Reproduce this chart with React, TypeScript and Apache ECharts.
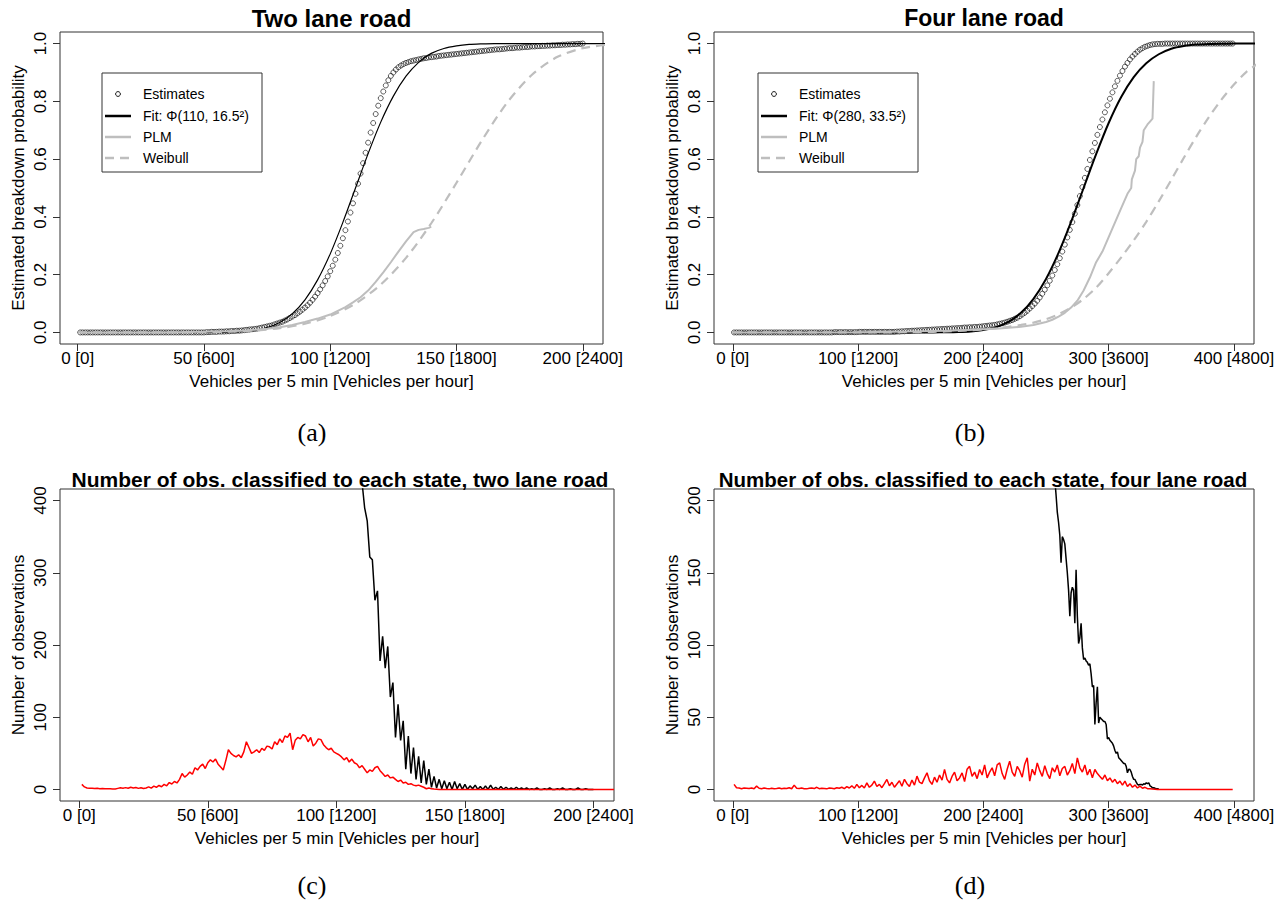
import React, { useEffect, useRef } from "react";
import * as echarts from "echarts";

// ---------- helpers for x grids (categories) ----------
function seq(a: number, b: number, s: number): number[] {
  const r: number[] = [];
  for (let v = a; v <= b + 1e-9; v += s) r.push(Math.round(v * 1000) / 1000);
  return r;
}
function pairs(xs: number[], ys: number[]) {
  return ys.map((y, i) => [xs[i], y]);
}

// ---------- tick labels ----------
const ticksTwoLane = [0, 50, 100, 150, 200];
const tickLabelsTwoLane = ["0 [0]", "50 [600]", "100 [1200]", "150 [1800]", "200 [2400]"];
const ticksFourLane = [0, 100, 200, 300, 400];
const tickLabelsFourLane = ["0 [0]", "100 [1200]", "200 [2400]", "300 [3600]", "400 [4800]"];
const ticksProb = [0, 0.2, 0.4, 0.6, 0.8, 1];
const ticksObsTwo = [0, 100, 200, 300, 400];
const ticksObsFour = [0, 50, 100, 150, 200];

// ---------- panel (a): two lane road ----------
const estA_x = seq(1, 200, 1);
const estA = [
  0, 0, 0, 0, 0, 0, 0, 0, 0, 0,
  0, 0, 0, 0, 0, 0, 0, 0, 0, 0,
  0, 0, 0, 0, 0, 0, 0, 0, 0, 0,
  0, 0, 0, 0, 0, 0, 0, 0, 0, 0,
  0, 0, 0, 0, 0, 0, 0, 0, 0, 0,
  0.001, 0.001, 0.002, 0.002, 0.002, 0.003, 0.003, 0.003, 0.004, 0.004,
  0.005, 0.005, 0.006, 0.006, 0.007, 0.008, 0.009, 0.010, 0.011, 0.012,
  0.013, 0.015, 0.017, 0.019, 0.021, 0.023, 0.025, 0.028, 0.031, 0.034,
  0.037, 0.041, 0.045, 0.050, 0.055, 0.060, 0.066, 0.072, 0.079, 0.086,
  0.094, 0.103, 0.113, 0.124, 0.136, 0.149, 0.163, 0.178, 0.194, 0.212,
  0.231, 0.252, 0.275, 0.300, 0.326, 0.354, 0.384, 0.415, 0.447, 0.480,
  0.515, 0.550, 0.586, 0.622, 0.657, 0.692, 0.725, 0.756, 0.785, 0.811,
  0.834, 0.855, 0.873, 0.888, 0.900, 0.910, 0.918, 0.924, 0.929, 0.933,
  0.936, 0.939, 0.941, 0.943, 0.945, 0.947, 0.949, 0.950, 0.952, 0.953,
  0.954, 0.955, 0.957, 0.958, 0.959, 0.960, 0.961, 0.962, 0.963, 0.964,
  0.965, 0.966, 0.967, 0.968, 0.969, 0.970, 0.971, 0.972, 0.973, 0.974,
  0.975, 0.976, 0.977, 0.978, 0.979, 0.980, 0.980, 0.981, 0.982, 0.983,
  0.984, 0.984, 0.985, 0.986, 0.986, 0.987, 0.988, 0.988, 0.989, 0.990,
  0.990, 0.991, 0.991, 0.992, 0.992, 0.993, 0.993, 0.994, 0.994, 0.995,
  0.995, 0.996, 0.996, 0.997, 0.997, 0.998, 0.998, 0.999, 0.999, 1.000,
];
const fitA_x = seq(0, 210, 5);
const fitA = [
  0, 0, 0, 0, 0, 0, 0, 0, 0, 0, 0.0001, 0.0004,
  0.0012, 0.0032, 0.0077, 0.017, 0.0345, 0.065, 0.113, 0.182, 0.272, 0.381,
  0.5, 0.619, 0.728, 0.818, 0.887, 0.935, 0.966, 0.983, 0.992, 0.997,
  0.999, 1, 1, 1, 1, 1, 1, 1, 1, 1, 1,
];
const plmA_x = [1, 10, 20, 30, 40, 50, 55, 60, 65, 70, 75, 80, 85, 90, 95, 100, 103, 106, 109, 112, 115, 118, 121, 124, 127, 130, 133, 135, 137, 139, 140];
const plmA = [0, 0, 0, 0, 0.001, 0.002, 0.003, 0.004, 0.006, 0.009, 0.013, 0.018, 0.026, 0.036, 0.048, 0.062, 0.075, 0.088, 0.104, 0.122, 0.145, 0.175, 0.208, 0.243, 0.28, 0.315, 0.347, 0.355, 0.358, 0.362, 0.366];
const weibA_x = seq(0, 210, 10);
const weibA = [0, 0, 0, 0, 0.0003, 0.0009, 0.0025, 0.0065, 0.015, 0.03, 0.057, 0.1, 0.166, 0.258, 0.378, 0.518, 0.664, 0.795, 0.893, 0.954, 0.984, 0.996];

// ---------- panel (b): four lane road ----------
const estB_x = seq(1, 399, 2);
const estB = [
  0, 0, 0, 0, 0, 0, 0, 0, 0, 0,
  0, 0, 0, 0, 0, 0, 0, 0, 0, 0,
  0, 0, 0, 0, 0, 0, 0, 0, 0, 0,
  0, 0, 0, 0, 0, 0, 0, 0, 0, 0,
  0.001, 0.001, 0.001, 0.001, 0.001, 0.001, 0.001, 0.001, 0.001, 0.001,
  0.002, 0.002, 0.002, 0.002, 0.002, 0.002, 0.002, 0.002, 0.002, 0.002, 0.002, 0.002, 0.002, 0.002, 0.002,
  0.003, 0.003, 0.004, 0.004, 0.005, 0.005, 0.006, 0.006, 0.007, 0.007,
  0.008, 0.008, 0.009, 0.009, 0.010, 0.010, 0.011, 0.011, 0.012, 0.012,
  0.013, 0.013, 0.014, 0.014, 0.015, 0.015, 0.016, 0.017, 0.017, 0.018,
  0.018, 0.019, 0.019, 0.020, 0.021,
  0.022, 0.023, 0.024, 0.025, 0.026, 0.028, 0.030, 0.032, 0.034, 0.037,
  0.040, 0.043, 0.047, 0.051, 0.056, 0.062, 0.068, 0.075, 0.083, 0.091,
  0.100, 0.110, 0.121, 0.134, 0.148, 0.163, 0.179, 0.197, 0.216, 0.236,
  0.257, 0.280, 0.304, 0.329, 0.355, 0.382, 0.411, 0.441, 0.472, 0.503,
  0.535, 0.566, 0.597, 0.627, 0.656, 0.684, 0.711, 0.737, 0.762, 0.786,
  0.809, 0.831, 0.852, 0.871, 0.889, 0.905, 0.920, 0.933, 0.945, 0.955,
  0.964, 0.972, 0.979, 0.984, 0.989, 0.992, 0.995, 0.997, 0.998, 0.999,
  0.999, 0.999, 1, 1, 1, 1, 1, 1, 1, 1,
  1, 1, 1, 1, 1, 1, 1, 1, 1, 1,
  1, 1, 1, 1, 1, 1, 1, 1, 1, 1,
];
const fitB_x = seq(0, 420, 10);
const fitB = [
  0, 0, 0, 0, 0, 0, 0, 0, 0, 0, 0, 0, 0, 0, 0,
  0.0001, 0.0002, 0.0005, 0.0014, 0.0036, 0.0085, 0.0183, 0.0366, 0.0678, 0.1163,
  0.1852, 0.2753, 0.3826, 0.5, 0.617, 0.725, 0.815, 0.884, 0.932, 0.963,
  0.982, 0.9916, 0.9964, 0.9986, 0.9995, 0.9998, 1, 1,
];
const plmB_x = [1, 50, 100, 130, 150, 170, 190, 200, 210, 220, 230, 240, 250, 255, 260, 265, 270, 275, 280, 285, 290, 295, 300, 305, 310, 315, 318, 318.5, 321, 322, 324, 325, 327, 328, 331, 333, 335, 335.5, 336];
const plmB = [0, 0, 0.001, 0.002, 0.004, 0.006, 0.009, 0.011, 0.013, 0.016, 0.02, 0.026, 0.036, 0.044, 0.055, 0.068, 0.086, 0.11, 0.145, 0.19, 0.243, 0.28, 0.33, 0.38, 0.43, 0.48, 0.5, 0.53, 0.56, 0.6, 0.61, 0.64, 0.66, 0.7, 0.72, 0.73, 0.74, 0.74, 0.87];
const weibB_x = seq(0, 420, 10);
const weibB = [
  0, 0, 0, 0, 0, 0, 0, 0, 0, 0, 0.0001, 0.0001, 0.0003, 0.0005, 0.0008,
  0.0013, 0.0021, 0.0033, 0.0051, 0.0077, 0.0105, 0.0145, 0.0195, 0.026, 0.034,
  0.046, 0.063, 0.086, 0.116, 0.155, 0.205, 0.26, 0.3185, 0.383, 0.4538,
  0.5283, 0.6045, 0.678, 0.745, 0.806, 0.858, 0.902, 0.933,
];

// ---------- panel (c): observations, two lane ----------
const redC_x = seq(1, 208, 1);
const redC = [
  7.0, 3.5, 2.0, 1.5, 1.8, 1.2, 1.5, 1.0, 1.3, 1.0,
  1.0, 0.8, 0.6, 0.7, 1.5, 2.2, 1.8, 2.5, 1.6, 3.0,
  2.0, 2.8, 1.5, 2.4, 1.2, 2.0, 3.5, 1.8, 4.6, 3.0,
  5.5, 3.8, 7.0, 5.0, 9.5, 7.5, 11.0, 9.0, 14.0, 22.0,
  17.0, 20.0, 24.0, 21.0, 30.0, 27.0, 32.0, 35.0, 29.0, 37.0,
  41.0, 38.0, 42.0, 35.0, 31.0, 27.0, 40.0, 55.0, 50.0, 47.0,
  45.0, 48.0, 44.0, 52.0, 66.0, 58.0, 50.0, 52.0, 55.0, 51.0,
  57.0, 54.0, 60.0, 59.0, 56.0, 66.0, 62.0, 70.0, 65.0, 74.0,
  72.0, 78.0, 55.0, 68.0, 72.0, 70.0, 76.0, 74.0, 66.0, 72.0,
  60.0, 64.0, 70.0, 69.0, 62.0, 58.0, 55.0, 57.0, 52.0, 50.0,
  48.0, 45.0, 41.0, 44.0, 38.0, 42.0, 37.0, 35.0, 30.0, 33.0,
  28.0, 23.0, 27.0, 25.0, 30.0, 32.0, 26.0, 22.0, 18.0, 20.0,
  16.0, 17.0, 14.0, 11.0, 13.0, 9.0, 10.0, 7.0, 8.0, 6.0,
  5.0, 6.0, 4.5, 3.0, 1.0, 2.0, 0.8, 0.5, 0.3, 0,
  0, 0, 0, 0, 0, 0, 0, 0, 0, 0,
  0, 0, 0, 0, 0, 0, 0, 0, 0, 0,
  0, 0, 0, 0, 0, 0, 0, 0, 0, 0,
  0, 0, 0, 0, 0, 0, 0, 0, 0, 0,
  0, 0, 0, 0, 0, 0, 0, 0, 0, 0,
  0, 0, 0, 0, 0, 0, 0, 0, 0, 0,
  0, 0, 0, 0, 0, 0, 0, 0,
];
const blackC_x = seq(109, 200, 1);
const blackC = [
  480, 425, 390, 372, 322, 318, 262, 275, 178, 212, 168, 198,
  128, 148, 72, 118, 68, 95, 28, 74, 22, 58,
  14, 46, 9, 40, 7, 28, 3, 18, 2, 14,
  1, 12, 1, 10, 0, 11, 1, 8, 0, 7,
  0, 5, 1, 6, 0, 4, 0, 5, 0, 6,
  0, 3, 0, 4, 0, 3, 0, 2, 0, 3,
  0, 2, 0, 2, 0, 1, 0, 2, 0, 0,
  1, 0, 2, 0, 0, 1, 0, 2, 0, 0,
  1, 0, 0, 2, 0, 0, 1, 0, 0, 0,
];

// ---------- panel (d): observations, four lane ----------
const redD_x = seq(1, 399, 2);
const redD = [
  3.5, 1.2, 1.0, 0.5, 1.0, 0.8, 0.6, 1.0, 0.5, 2.3, 0.8, 0.5, 1.0, 0.6, 0.4, 0.8, 0.5, 0.6, 1.0, 0.5,
  0.8, 0.6, 1.2, 0.5, 3.0, 0.8, 0.6, 1.0, 0.5, 0.4, 0.8, 1.0, 0.6, 1.5, 0.5, 0.8, 0.6, 0.4, 1.0, 0.8,
  0.5, 1.2, 0.8, 1.5, 0.6, 2.0, 1.0, 2.5, 0.8, 3.5, 1.2, 2.8, 1.0, 4.6, 1.5, 3.0, 5.8, 2.0, 3.5, 1.2,
  4.0, 6.9, 2.5, 5.0, 1.5, 3.8, 6.0, 2.2, 7.0, 4.0, 2.0, 6.5, 3.0, 9.2, 5.0, 4.0, 8.0, 11.5, 6.0, 3.5,
  8.5, 5.0, 10.0, 6.5, 13.8, 7.0, 4.5, 9.0, 12.0, 6.0, 8.0, 11.5, 5.5, 14.0, 16.0, 9.0, 12.0, 7.5, 13.8, 10.0,
  17.0, 8.0, 12.0, 15.0, 9.5, 17.0, 18.4, 11.0, 7.0, 14.0, 19.6, 12.0, 9.0, 16.0, 13.0, 8.5, 17.5, 21.9, 5.8, 14.0,
  10.0, 18.4, 13.0, 9.0, 16.5, 11.0, 7.5, 15.0, 12.0, 17.0, 9.5, 14.5, 16.0, 10.0, 13.0, 18.0, 11.0, 21.9, 15.0, 12.0,
  17.0, 10.0, 14.0, 8.0, 13.8, 11.0, 9.0, 7.0, 10.0, 6.0, 8.0, 5.0, 7.0, 4.0, 5.8, 3.0, 5.8, 2.0, 4.0, 1.5,
  3.0, 1.0, 2.3, 0.8, 1.5, 0.5, 0.5, 0.3, 0.2, 0, 0, 0, 0, 0, 0, 0, 0, 0, 0, 0,
  0, 0, 0, 0, 0, 0, 0, 0, 0, 0, 0, 0, 0, 0, 0, 0, 0, 0, 0, 0,
];
const blackD_x = seq(255, 340, 1);
const blackD = [
  260, 235, 215, 204, 192, 185, 176, 157, 175, 173, 170, 160, 150, 138, 120, 136, 140, 138, 115, 152,
  120, 101, 105, 115, 98, 90, 91, 89, 88, 86, 87, 80, 71, 72, 45, 60, 71, 46, 50, 49,
  48, 47, 47, 45, 35, 36, 34, 33, 32, 30, 27, 25, 26, 22, 21, 20, 19, 18, 18, 16,
  11.5, 14, 13.8, 12, 9, 7, 6.9, 5, 3.5, 3, 3.5, 3.5, 3, 4, 3.5, 4.6, 4, 4.6, 2.5, 2,
  1, 1.2, 0.8, 0.5, 0.5, 0.3,
];

// ---------- layout ----------
const FONT = '"Liberation Sans", Arial, Helvetica, sans-serif';
const SERIF = '"Liberation Serif", "Times New Roman", serif';
const AXIS_COLOR = "#333";
const GRAY = "#bebebe";

const gridBoxes = [
  { left: 60, top: 32, width: 543, height: 312 },
  { left: 714, top: 32, width: 540, height: 312 },
  { left: 60, top: 489, width: 554, height: 312 },
  { left: 714, top: 489, width: 540, height: 312 },
];

function xAxis(gi: number, min: number, max: number, ticks: number[], labels: string[]) {
  return {
    type: "value",
    gridIndex: gi,
    min,
    max,
    axisLine: { show: false, onZero: false },
    splitLine: { show: false },
    axisTick: { show: true, inside: false, length: 7, customValues: ticks, lineStyle: { color: AXIS_COLOR, width: 1 } },
    axisLabel: {
      show: true,
      customValues: ticks,
      formatter: (v: number) => {
        const i = ticks.findIndex((t) => Math.abs(t - v) < 1e-6);
        return i >= 0 ? labels[i] : "";
      },
      margin: 6,
      fontSize: 17,
      fontFamily: FONT,
      color: "#000",
    },
    name: "Vehicles per 5 min [Vehicles per hour]",
    nameLocation: "middle",
    nameGap: 29,
    nameTextStyle: { fontSize: 17, fontFamily: FONT, color: "#000" },
  };
}

function yAxis(gi: number, min: number, max: number, ticks: number[], name: string, dec: number) {
  return {
    type: "value",
    gridIndex: gi,
    min,
    max,
    axisLine: { show: false, onZero: false },
    splitLine: { show: false },
    axisTick: { show: true, inside: false, length: 7, customValues: ticks, lineStyle: { color: AXIS_COLOR, width: 1 } },
    axisLabel: {
      show: true,
      customValues: ticks,
      rotate: 90,
      formatter: (v: number) => v.toFixed(dec),
      margin: 11,
      fontSize: 17,
      fontFamily: FONT,
      color: "#000",
    },
    name,
    nameLocation: "middle",
    nameGap: 33,
    nameTextStyle: { fontSize: 17, fontFamily: FONT, color: "#000" },
  };
}

function legendGraphics(x0: number, y0: number, fitLabel: string) {
  const w = 160;
  const h = 99;
  const rows = [21, 43, 64, 85];
  const lx1 = x0 + 3;
  const lx2 = x0 + 29;
  const tx = x0 + 41;
  const els: any[] = [
    { type: "rect", shape: { x: x0, y: y0, width: w, height: h }, style: { fill: "#fff", stroke: AXIS_COLOR, lineWidth: 1 }, z: 100 },
    { type: "circle", shape: { cx: x0 + 16, cy: y0 + rows[0], r: 2.4 }, style: { fill: "none", stroke: "#000", lineWidth: 0.9 }, z: 101 },
    { type: "line", shape: { x1: lx1, y1: y0 + rows[1], x2: lx2, y2: y0 + rows[1] }, style: { stroke: "#000", lineWidth: 2.5 }, z: 101 },
    { type: "line", shape: { x1: lx1, y1: y0 + rows[2], x2: lx2, y2: y0 + rows[2] }, style: { stroke: GRAY, lineWidth: 2.5 }, z: 101 },
    { type: "line", shape: { x1: lx1, y1: y0 + rows[3], x2: lx2, y2: y0 + rows[3] }, style: { stroke: GRAY, lineWidth: 2.5, lineDash: [9, 6] }, z: 101 },
  ];
  const texts = ["Estimates", fitLabel, "PLM", "Weibull"];
  texts.forEach((t, i) => {
    els.push({
      type: "text",
      x: tx,
      y: y0 + rows[i],
      style: { text: t, font: `14px ${FONT}`, fill: "#000", textAlign: "left", textVerticalAlign: "middle" },
      z: 101,
    });
  });
  return els;
}

function textEl(text: string, x: number, y: number, font: string) {
  return {
    type: "text",
    x,
    y,
    style: { text, font, fill: "#000", textAlign: "center", textVerticalAlign: "middle" },
    z: 100,
  };
}

export default function App() {
  const ref = useRef<HTMLDivElement>(null);

  useEffect(() => {
    if (!ref.current) return;
    const chart = echarts.init(ref.current, undefined, { renderer: "svg", width: 1276, height: 901 });

    const lineBase = { type: "line", showSymbol: false, symbol: "none", clip: true, animation: false };

    const option: any = {
      animation: false,
      backgroundColor: "#fff",
      grid: gridBoxes.map((g) => ({
        ...g,
        show: true,
        borderColor: AXIS_COLOR,
        borderWidth: 1,
        backgroundColor: "transparent",
        containLabel: false,
        outerBoundsMode: "none",
      })),
      xAxis: [
        xAxis(0, -7, 208, ticksTwoLane, tickLabelsTwoLane),
        xAxis(1, -15, 416, ticksFourLane, tickLabelsFourLane),
        xAxis(2, -7.5, 208, ticksTwoLane, tickLabelsTwoLane),
        xAxis(3, -15, 416, ticksFourLane, tickLabelsFourLane),
      ],
      yAxis: [
        yAxis(0, -0.04, 1.04, ticksProb, "Estimated breakdown probability", 1),
        yAxis(1, -0.04, 1.04, ticksProb, "Estimated breakdown probability", 1),
        yAxis(2, -16, 416, ticksObsTwo, "Number of observations", 0),
        yAxis(3, -8, 208, ticksObsFour, "Number of observations", 0),
      ],
      series: [
        // (a)
        {
          type: "scatter", xAxisIndex: 0, yAxisIndex: 0, data: pairs(estA_x, estA), symbol: "circle", symbolSize: 5,
          itemStyle: { color: "rgba(0,0,0,0)", borderColor: "#000", borderWidth: 0.8 }, clip: true, z: 2,
        },
        { ...lineBase, xAxisIndex: 0, yAxisIndex: 0, data: pairs(fitA_x, fitA), smooth: 0.3, lineStyle: { color: "#000", width: 1.2 }, z: 3 },
        { ...lineBase, xAxisIndex: 0, yAxisIndex: 0, data: pairs(plmA_x, plmA), lineStyle: { color: GRAY, width: 2 }, z: 4 },
        { ...lineBase, xAxisIndex: 0, yAxisIndex: 0, data: pairs(weibA_x, weibA), smooth: 0.3, lineStyle: { color: GRAY, width: 2.2, type: [9, 6] }, z: 5 },
        // (b)
        {
          type: "scatter", xAxisIndex: 1, yAxisIndex: 1, data: pairs(estB_x, estB), symbol: "circle", symbolSize: 5,
          itemStyle: { color: "rgba(0,0,0,0)", borderColor: "#000", borderWidth: 0.8 }, clip: true, z: 2,
        },
        { ...lineBase, xAxisIndex: 1, yAxisIndex: 1, data: pairs(fitB_x, fitB), smooth: 0.3, lineStyle: { color: "#000", width: 2 }, z: 3 },
        { ...lineBase, xAxisIndex: 1, yAxisIndex: 1, data: pairs(plmB_x, plmB), lineStyle: { color: GRAY, width: 2 }, z: 4 },
        { ...lineBase, xAxisIndex: 1, yAxisIndex: 1, data: pairs(weibB_x, weibB), smooth: 0.3, lineStyle: { color: GRAY, width: 2.2, type: [9, 6] }, z: 5 },
        // (c)
        { ...lineBase, xAxisIndex: 2, yAxisIndex: 2, data: pairs(blackC_x, blackC), lineStyle: { color: "#000", width: 1.5 }, z: 2 },
        { ...lineBase, xAxisIndex: 2, yAxisIndex: 2, data: pairs(redC_x, redC), lineStyle: { color: "#ff0000", width: 1.5 }, z: 3 },
        // (d)
        { ...lineBase, xAxisIndex: 3, yAxisIndex: 3, data: pairs(blackD_x, blackD), lineStyle: { color: "#000", width: 1.5 }, z: 2 },
        { ...lineBase, xAxisIndex: 3, yAxisIndex: 3, data: pairs(redD_x, redD), lineStyle: { color: "#ff0000", width: 1.5 }, z: 3 },
      ],
      graphic: [
        textEl("Two lane road", 331.5, 18, `bold 24px ${FONT}`),
        textEl("Four lane road", 984, 18, `bold 23px ${FONT}`),
        textEl("Number of obs. classified to each state, two lane road", 340, 479, `bold 21px ${FONT}`),
        textEl("Number of obs. classified to each state, four lane road", 983, 479, `bold 20.5px ${FONT}`),
        textEl("(a)", 312, 432, `26px ${SERIF}`),
        textEl("(b)", 970, 432, `26px ${SERIF}`),
        textEl("(c)", 312, 885, `26px ${SERIF}`),
        textEl("(d)", 970, 885, `26px ${SERIF}`),
        ...legendGraphics(102, 73, "Fit: \u03A6(110, 16.5\u00B2)"),
        ...legendGraphics(758, 73, "Fit: \u03A6(280, 33.5\u00B2)"),
      ],
    };

    chart.setOption(option);
    return () => chart.dispose();
  }, []);

  return (
    <div
      ref={ref}
      style={{ position: "absolute", left: 0, top: 0, width: 1276, height: 901, background: "#fff" }}
    />
  );
}
